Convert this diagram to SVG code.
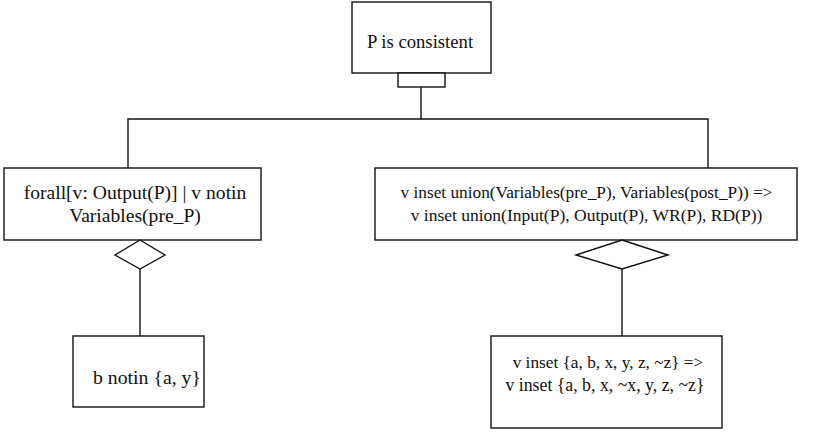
<svg xmlns="http://www.w3.org/2000/svg" width="836" height="434" viewBox="0 0 836 434">
  <style>
    .box { fill: #fff; stroke: #111; stroke-width: 1.4; }
    .conn { fill: none; stroke: #111; stroke-width: 1.4; }
    .lbl { font-family: "Liberation Serif", "Times New Roman", serif; font-size: 18px; fill: #111; text-anchor: middle; }
  </style>
  <rect width="836" height="434" fill="#fff"/>

  <g id="connectors">
    <polyline class="conn" points="421,87 421,119"/>
    <polyline class="conn" points="128,168 128,119 708,119 708,168"/>
    <line class="conn" x1="140" y1="269" x2="140" y2="336"/>
    <line class="conn" x1="622" y1="269" x2="622" y2="336"/>
  </g>

  <g id="root">
    <rect class="box" x="352" y="2" width="139" height="71"/>
    <rect class="box" x="398" y="73" width="47" height="14"/>
    <text class="lbl" x="420" y="48" style="font-size:18.7px">P is consistent</text>
  </g>

  <g id="left-goal">
    <rect class="box" x="4" y="168" width="257" height="72"/>
    <text class="lbl" x="135" y="199" style="font-size:19.6px">forall[v: Output(P)] | v notin</text>
    <text class="lbl" x="135" y="222" style="font-size:19.6px">Variables(pre_P)</text>
    <polygon class="box" points="140,240 165,255 140,269 115,255"/>
  </g>

  <g id="right-goal">
    <rect class="box" x="375" y="168" width="422" height="72"/>
    <text class="lbl" x="586.5" y="198" style="font-size:17.3px">v inset union(Variables(pre_P), Variables(post_P)) =&gt;</text>
    <text class="lbl" x="586.5" y="221" style="font-size:17.5px">v inset union(Input(P), Output(P), WR(P), RD(P))</text>
    <polygon class="box" points="622,240 668,255 622,269 576,255"/>
  </g>

  <g id="left-leaf">
    <rect class="box" x="73" y="336" width="131" height="71"/>
    <text class="lbl" x="147" y="384" style="font-size:19.8px">b notin {a, y}</text>
  </g>

  <g id="right-leaf">
    <rect class="box" x="491" y="336" width="231" height="92"/>
    <text class="lbl" x="608" y="368" style="font-size:17.3px">v inset {a, b, x, y, z, ~z} =&gt;</text>
    <text class="lbl" x="605" y="391" style="font-size:17.8px">v inset {a, b, x, ~x, y, z, ~z}</text>
  </g>
</svg>
